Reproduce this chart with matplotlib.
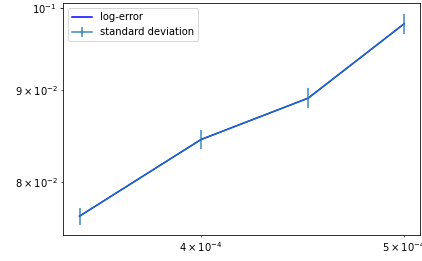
import matplotlib
matplotlib.use("Agg")
import matplotlib.pyplot as plt

x = [3.5e-4, 4.0e-4, 4.5e-4, 5.0e-4]
log_error = [0.0766, 0.0845, 0.0891, 0.0980]
std_dev = [0.00084, 0.00104, 0.00115, 0.00126]

fig = plt.figure(figsize=(422/72, 261/72), dpi=72)
ax = fig.add_axes([63.3/422, (261-235.3)/261, (420.3-63.3)/422, (235.3-3.3)/261])
ax.plot(x, log_error, color='blue', label='log-error')
ax.errorbar(x, log_error, yerr=std_dev, alpha=0.88, label='standard deviation')
ax.set_xscale('log')
ax.set_yscale('log')
ax.legend(loc='upper left')
fig.savefig('out.png', dpi=72)
